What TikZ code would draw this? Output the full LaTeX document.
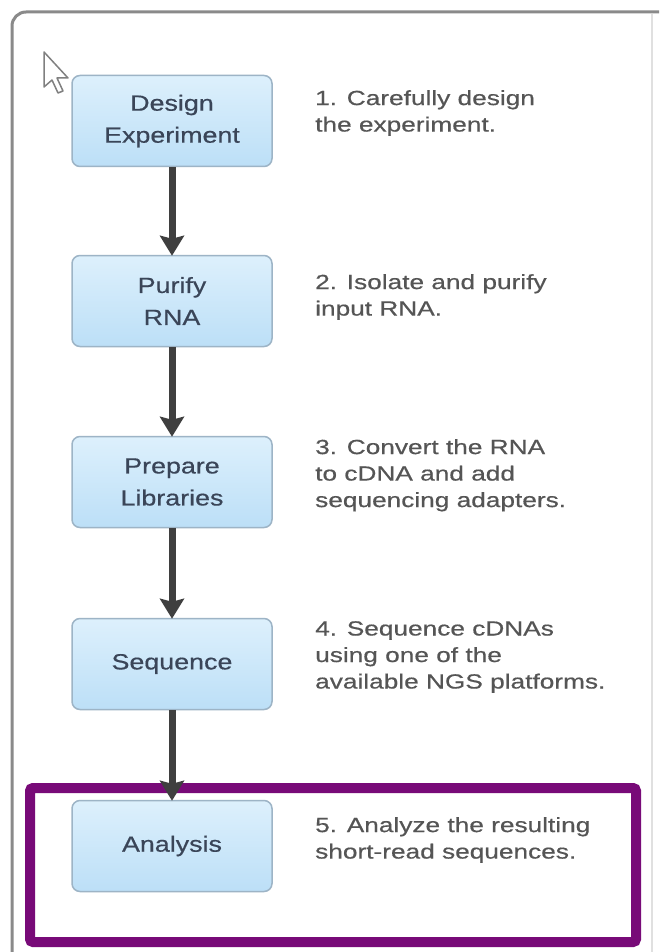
\documentclass[tikz,border=0pt]{standalone}
\usepackage{fontspec}
\usetikzlibrary{arrows.meta}
\newfontfamily\colfont[FakeStretch=1.28,FakeBold=0.5]{Liberation Sans}
\newfontfamily\boxfont[FakeStretch=1.22,FakeBold=0.5]{Liberation Sans}
\definecolor{boxtop}{HTML}{DDF0FC}
\definecolor{boxbot}{HTML}{BCDFF7}
\definecolor{boxline}{HTML}{9DB4C6}
\definecolor{boxtext}{HTML}{3A4558}
\definecolor{coltext}{HTML}{555555}
\definecolor{arrowcol}{HTML}{3F3F3F}
\definecolor{framegray}{HTML}{8A8A8A}
\definecolor{purpleframe}{HTML}{780A78}
\begin{document}
\begin{tikzpicture}[x=1pt,y=-1pt,
  stepbox/.style={draw=boxline,line width=1.5pt,rounded corners=8pt,
    top color=boxtop,bottom color=boxbot,minimum width=200pt,minimum height=91pt,
    align=center,text=boxtext,font=\boxfont\fontsize{22}{32}\selectfont,inner sep=0pt},
  desc/.style={anchor=north west,align=left,text=coltext,inner sep=0pt,
    font=\colfont\fontsize{20.5}{26.5}\selectfont},
  arr/.style={draw=arrowcol,line width=7pt,-{Stealth[width=24pt,length=20pt,inset=3pt]},shorten >=-1pt}]
\useasboundingbox (0,0) rectangle (659,952);
\fill[white] (0,0) rectangle (659,952);
% outer window frame
\draw[framegray,line width=3pt,rounded corners=14pt] (12,952) -- (12,12) -- (659,12);
\draw[black!12,line width=1.5pt] (652,14) -- (652,952);
% purple highlight frame
\draw[purpleframe,line width=10pt,rounded corners=3pt] (30,788) rectangle (636,942);
% boxes
\node[stepbox] (b1) at (172,121) {Design\\Experiment};
\node[stepbox] (b2) at (172,301) {Purify\\RNA};
\node[stepbox] (b3) at (172,482) {Prepare\\Libraries};
\node[stepbox] (b4) at (172,664) {Sequence};
\node[stepbox] (b5) at (172,846) {Analysis};
% descriptions
\node[desc] (t1) at (315,90) {1. Carefully design\\the experiment.};
\node[desc] (t2) at (315,274) {2. Isolate and purify\\input RNA.};
\node[desc] (t3) at (315,439) {3. Convert the RNA\\to cDNA and add\\sequencing adapters.};
\node[desc] (t4) at (315,621) {4. Sequence cDNAs\\using one of the\\available NGS platforms.};
\node[desc] (t5) at (315,817) {5. Analyze the resulting\\short-read sequences.};
% arrows
\draw[arr] (b1) -- (b2);
\draw[arr] (b2) -- (b3);
\draw[arr] (b3) -- (b4);
\draw[arr] (b4) -- (b5);
% mouse cursor
\draw[gray,fill=white,line width=1.5pt,line join=round]
  (44,52) -- (44,87) -- (52,80) -- (58,93) -- (63,91) -- (57,78) -- (68,78) -- cycle;
\end{tikzpicture}
\end{document}
